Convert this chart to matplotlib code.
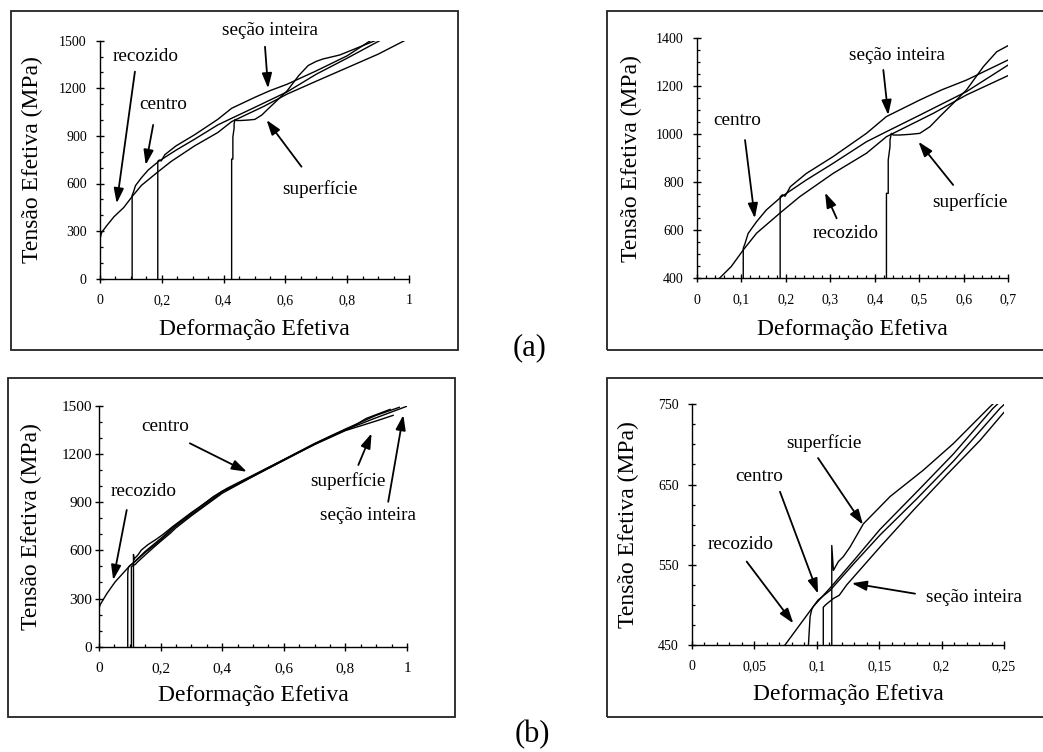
import matplotlib
matplotlib.use("Agg")
from matplotlib import pyplot as plt
from matplotlib.patches import Rectangle
from matplotlib.ticker import MultipleLocator, FuncFormatter

plt.rcParams["font.family"] = ["Liberation Serif", "DejaVu Serif"]

# Curves for set (a): effective strain vs effective stress (MPa)
recozido_a_x = [0, 0, 0.005, 0.02, 0.045, 0.077, 0.104, 0.134, 0.186, 0.231,
                0.306, 0.381, 0.426, 0.531, 0.606, 0.7, 0.8, 0.9, 0.985]
recozido_a_y = [0, 250, 290, 330, 390, 449, 518, 588, 671, 740,
                837, 921, 990, 1087, 1164, 1245, 1330, 1415, 1500]

centro_a_x = [0.104, 0.104, 0.108, 0.115, 0.134, 0.156, 0.19, 0.246, 0.306,
              0.381, 0.426, 0.501, 0.606, 0.7, 0.8, 0.905]
centro_a_y = [0, 525, 545, 587, 636, 685, 740, 810, 879,
              969, 1011, 1080, 1178, 1289, 1390, 1500]

secao_a_x = [0.187, 0.187, 0.192, 0.198, 0.21, 0.246, 0.306, 0.381, 0.426,
             0.501, 0.55, 0.606, 0.7, 0.8, 0.875]
secao_a_y = [0, 740, 748, 742, 782, 837, 907, 1004, 1074,
             1143, 1185, 1226, 1310, 1405, 1500]

superficie_a_x = [0.426, 0.426, 0.43, 0.43, 0.434, 0.434, 0.437, 0.441, 0.456,
                  0.48, 0.501, 0.524, 0.546, 0.576, 0.606, 0.644, 0.674, 0.7,
                  0.722, 0.776, 0.89]
superficie_a_y = [0, 754, 754, 893, 949, 976, 1004, 997, 997,
                  1000, 1004, 1032, 1074, 1129, 1185, 1282, 1344, 1370,
                  1385, 1410, 1500]

# Curves for set (b)
recozido_b_x = [0, 0, 0.004, 0.026, 0.053, 0.0745, 0.0972, 0.1106, 0.13,
                0.1506, 0.1827, 0.2094, 0.2412, 0.285, 0.328, 0.371, 0.415,
                0.458, 0.501, 0.544, 0.598, 0.652, 0.706, 0.76, 0.814, 0.868,
                0.945]
recozido_b_y = [0, 239, 262, 332, 405, 450, 498, 521, 556,
                594, 645, 688, 745, 809, 871, 934, 985,
                1027, 1068, 1110, 1162, 1214, 1266, 1317, 1359, 1421,
                1477]

centro_b_x = [0.0933, 0.0933, 0.094, 0.0946, 0.0959, 0.0972, 0.101, 0.1106,
              0.13, 0.1506, 0.18, 0.21, 0.2468, 0.3, 0.4, 0.5, 0.6, 0.7, 0.8,
              0.9, 0.975]
centro_b_y = [0, 450, 469, 485, 494, 498, 506, 518,
              552, 587, 632, 680, 745, 822, 962, 1065, 1165, 1265, 1355,
              1440, 1490]

secao_b_x = [0.1052, 0.1052, 0.107, 0.1133, 0.118, 0.124, 0.1506, 0.1774,
             0.204, 0.2308, 0.2494, 0.3, 0.4, 0.5, 0.6, 0.7, 0.8, 0.9, 1.0]
secao_b_y = [0, 497, 500, 508, 512, 525, 572, 618,
             662, 705, 739, 815, 955, 1060, 1160, 1262, 1350, 1425, 1497]

superficie_b_x = [0.112, 0.112, 0.1133, 0.1173, 0.1212, 0.1266, 0.1373,
                  0.1587, 0.1854, 0.2094, 0.2388, 0.3, 0.4, 0.45, 0.5, 0.6,
                  0.7, 0.8, 0.9, 0.955]
superficie_b_y = [0, 574, 543, 554, 560, 572, 601,
                  635, 668, 701, 747, 835, 968, 1010, 1060, 1160,
                  1258, 1345, 1405, 1440]

curves_a = [(recozido_a_x, recozido_a_y), (centro_a_x, centro_a_y),
            (secao_a_x, secao_a_y), (superficie_a_x, superficie_a_y)]
curves_b = [(recozido_b_x, recozido_b_y), (centro_b_x, centro_b_y),
            (secao_b_x, secao_b_y), (superficie_b_x, superficie_b_y)]

W, H = 1043, 752
fig = plt.figure(figsize=(W / 100, H / 100), dpi=100)


def px_axes(x0, x1, ytop, ybot):
    return fig.add_axes([x0 / W, 1 - ybot / H, (x1 - x0) / W, (ybot - ytop) / H])


def comma(v, pos):
    return f"{v:g}".replace(".", ",")


def setup(ax, curves, xlim, ylim, xmaj, xmin, yticks, ymin, xl, yl,
          tsize=10, xpad=8, ypad=6.5):
    for x, y in curves:
        ax.plot(x, y, color="k", lw=1.0)
    ax.set_xlim(*xlim)
    ax.set_ylim(*ylim)
    for s in ("top", "right"):
        ax.spines[s].set_visible(False)
    for s in ("left", "bottom"):
        ax.spines[s].set_linewidth(1.0)
    ax.xaxis.set_major_locator(MultipleLocator(xmaj))
    ax.xaxis.set_minor_locator(MultipleLocator(xmin))
    ax.set_yticks(yticks)
    ax.yaxis.set_minor_locator(MultipleLocator(ymin))
    ax.xaxis.set_major_formatter(FuncFormatter(comma))
    ax.yaxis.set_major_formatter(FuncFormatter(comma))
    ax.tick_params(which="major", direction="inout", length=6, width=1.0,
                   labelsize=tsize)
    ax.tick_params(which="minor", direction="in", length=2.5, width=0.9)
    ax.tick_params(axis="x", which="major", pad=xpad)
    ax.tick_params(axis="y", which="major", pad=ypad)
    ax.set_xlabel("Deformação Efetiva", fontsize=17, va="center")
    ax.set_ylabel("Tensão Efetiva (MPa)", fontsize=17, va="center")
    ax.xaxis.set_label_coords(0.5, xl)
    ax.yaxis.set_label_coords(yl, 0.5)


def note(ax, label, text_xy, tail, tip):
    ax.text(*text_xy, label, fontsize=13.8, ha="center", va="center",
            clip_on=False)
    ax.annotate("", xy=tip, xytext=tail, annotation_clip=False,
                arrowprops=dict(arrowstyle="-|>,head_length=0.6,head_width=0.2",
                                color="k", lw=1.3, mutation_scale=15,
                                shrinkA=0, shrinkB=0))


# frames around each panel
for x0, y0, x1, y1 in [(11, 11, 458, 350), (607, 11, 1050, 350),
                       (8, 378, 455, 717), (607, 378, 1050, 717)]:
    fig.add_artist(Rectangle((x0 / W, 1 - y1 / H), (x1 - x0) / W,
                             (y1 - y0) / H, transform=fig.transFigure,
                             fill=False, lw=1.3, ec="#222222"))

ax1 = px_axes(100, 409, 40.7, 278.7)
setup(ax1, curves_a, (0, 1), (0, 1500), 0.2, 0.05,
      [0, 300, 600, 900, 1200, 1500], 100, -0.213, -0.22)
note(ax1, "seção inteira", (0.551, 1563), (0.534, 1462), (0.544, 1200))
note(ax1, "recozido", (0.148, 1399), (0.113, 1305), (0.054, 475))
note(ax1, "centro", (0.205, 1095), (0.172, 969), (0.148, 717))
note(ax1, "superfície", (0.711, 566), (0.652, 706), (0.539, 1000))

ax2 = px_axes(697, 1008.3, 38.3, 278.3)
setup(ax2, curves_a, (0, 0.7), (400, 1400), 0.1, 0.02,
      [400, 600, 800, 1000, 1200, 1400], 50, -0.2125, -0.21)
note(ax2, "seção inteira", (0.449, 1327), (0.419, 1268), (0.43, 1080))
note(ax2, "centro", (0.091, 1056), (0.108, 976), (0.13, 650))
note(ax2, "recozido", (0.335, 585), (0.314, 650), (0.288, 757))
note(ax2, "superfície", (0.614, 716), (0.576, 789), (0.498, 969))

ax3 = px_axes(99, 407, 405.7, 646.7)
setup(ax3, curves_b, (0, 1), (0, 1500), 0.2, 0.05,
      [0, 300, 600, 900, 1200, 1500], 100, -0.203, -0.218,
      tsize=11, ypad=2)
note(ax3, "centro", (0.214, 1369), (0.295, 1266), (0.48, 1089))
note(ax3, "recozido", (0.144, 965), (0.09, 851), (0.046, 415))
note(ax3, "superfície", (0.809, 1031), (0.842, 1131), (0.885, 1328))
note(ax3, "seção inteira", (0.873, 818), (0.939, 902), (0.988, 1442))

ax4 = px_axes(692, 1004, 404.3, 645)
setup(ax4, curves_b, (0, 0.25), (450, 750), 0.05, 0.01,
      [450, 550, 650, 750], 25, -0.206, -0.205)
note(ax4, "superfície", (0.1056, 702), (0.101, 683), (0.137, 600))
note(ax4, "centro", (0.054, 660), (0.0705, 641), (0.101, 514))
note(ax4, "recozido", (0.0387, 575), (0.0438, 554), (0.0812, 477))
note(ax4, "seção inteira", (0.2257, 509), (0.1787, 514), (0.128, 527))

fig.text(530 / W, 1 - 348 / H, "(a)", fontsize=22, ha="center", va="center")
fig.text(532 / W, 1 - 735 / H, "(b)", fontsize=22, ha="center", va="center")

fig.savefig("out.png", dpi=100)
